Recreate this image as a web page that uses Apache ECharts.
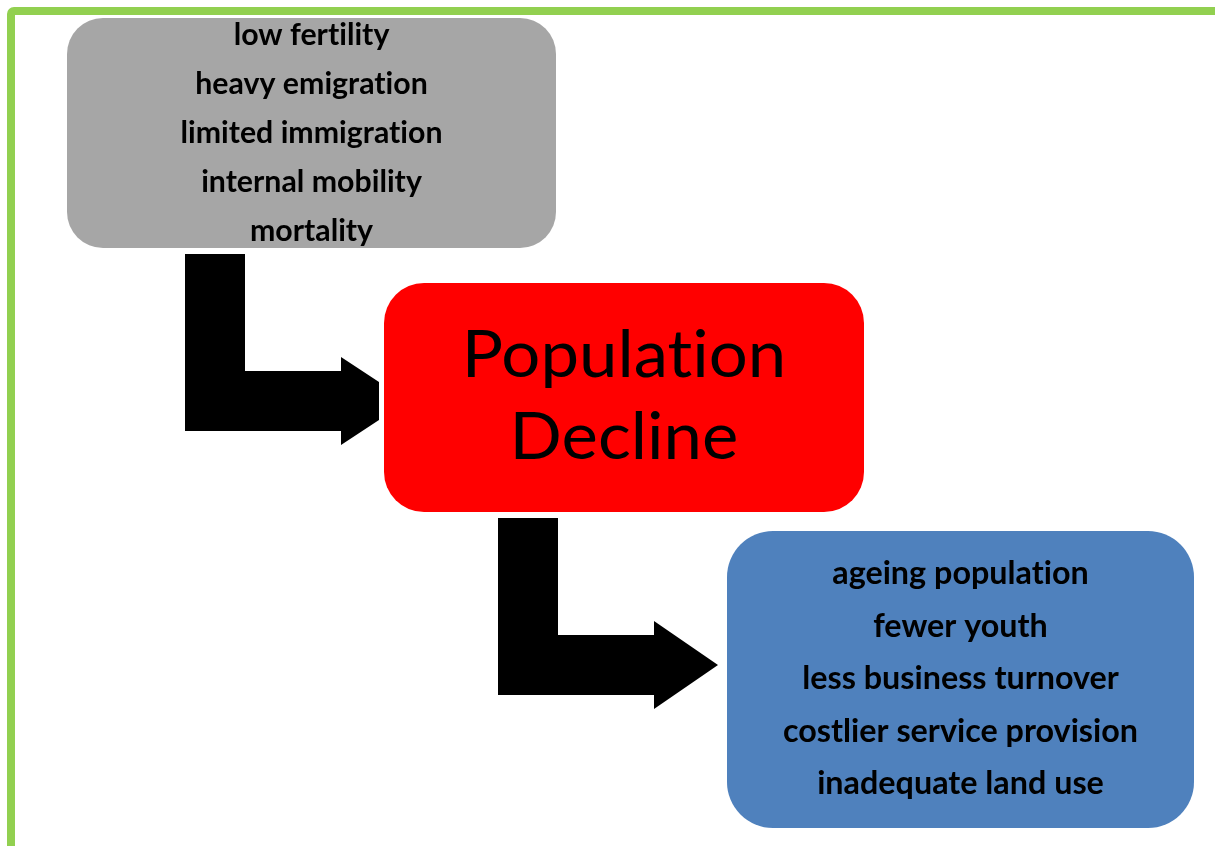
<!DOCTYPE html>
<html><head><meta charset="utf-8">
<script src="https://cdn.jsdelivr.net/npm/echarts@6/dist/echarts.min.js"></script>
<style>html,body{margin:0;padding:0;background:#fff}#c{width:1215px;height:846px}</style>
</head><body><div id="c"></div>
<script>
// ---- content ----
const causes = ['low fertility', 'heavy emigration', 'limited immigration', 'internal mobility', 'mortality'];
const centralIssue = ['Population', 'Decline'];
const consequences = ['ageing population', 'fewer youth', 'less business turnover', 'costlier service provision', 'inadequate land use'];

// ---- layout (pixel space, mapped through hidden value axes) ----
const W = 1215, H = 846;
const FONT = 'Lato';
const boxLayout = [
  { lines: causes, x0: 67, y0: 18, x1: 556, y1: 248, r: 36, fill: '#A6A6A6', size: 30, weight: 'bold', base: 45, gap: 49, sx: 1.01 },
  { lines: centralIssue, x0: 384, y0: 283, x1: 864, y1: 512, r: 40, fill: '#FF0000', size: 65, weight: 'normal', base: 377, gap: 82, sx: 1.06 },
  { lines: consequences, x0: 727, y0: 531, x1: 1194, y1: 828, r: 46, fill: '#4F81BD', size: 32, weight: 'bold', base: 584, gap: 52.5, sx: 1.01 }
];
const arrowLayout = [
  { vx0: 185, vx1: 245, vy0: 254, hy0: 371, hy1: 431, hx: 341, ht: 357, hb: 445, tx: 408, clip: 379 },
  { vx0: 498, vx1: 558, vy0: 518, hy0: 635, hy1: 695, hx: 654, ht: 621, hb: 709, tx: 718, clip: 718 }
];
const frameLayout = { x0: 11, y0: 11, x1: W + 20, y1: H + 20, color: '#92D050', width: 8 };

// draw text without discretionary ligatures (closer to the original typeface)
(function () {
  const P = CanvasRenderingContext2D.prototype;
  ['fillText', 'measureText'].forEach(function (k) {
    const orig = P[k];
    P[k] = function () { try { this.textRendering = 'optimizeSpeed'; } catch (e) {} return orig.apply(this, arguments); };
  });
})();

// distance between the 'middle' text baseline (used by zrender) and the alphabetic baseline
const probe = document.createElement('canvas').getContext('2d');
function baselineOffset(font, size) {
  probe.font = font;
  probe.textBaseline = 'middle';
  const m = probe.measureText('H');
  const d = m.actualBoundingBoxDescent;
  return (typeof d === 'number' && isFinite(d)) ? d : size * 0.35;
}

function renderFrame(params, api) {
  const f = frameLayout;
  const a = api.coord([f.x0, f.y0]), b = api.coord([f.x1, f.y1]);
  return { type: 'rect', shape: { x: a[0], y: a[1], width: b[0] - a[0], height: b[1] - a[1], r: 3 },
    style: { fill: 'none', stroke: f.color, lineWidth: f.width } };
}

function renderArrow(params, api) {
  const A = arrowLayout[params.dataIndex];
  const cy = (A.ht + A.hb) / 2, hh = (A.hb - A.ht) / 2;
  const half = hh * (A.tx - A.clip) / (A.tx - A.hx);
  const pts = [
    [A.vx0, A.vy0], [A.vx1, A.vy0], [A.vx1, A.hy0], [A.hx, A.hy0], [A.hx, A.ht],
    [A.clip, cy - half], [A.clip, cy + half], [A.hx, A.hb], [A.hx, A.hy1], [A.vx0, A.hy1]
  ].map(p => api.coord(p));
  return { type: 'polygon', shape: { points: pts }, style: { fill: '#000000' } };
}

function renderBox(params, api) {
  const B = boxLayout[params.dataIndex];
  const a = api.coord([B.x0, B.y0]), b = api.coord([B.x1, B.y1]);
  const cx = (a[0] + b[0]) / 2;
  const font = B.weight + ' ' + B.size + 'px ' + FONT;
  const off = baselineOffset(font, B.size);
  const children = [{
    type: 'rect', shape: { x: a[0], y: a[1], width: b[0] - a[0], height: b[1] - a[1], r: B.r },
    style: { fill: B.fill }
  }];
  B.lines.forEach((t, i) => {
    const y = api.coord([0, B.base + i * B.gap])[1] - off;
    children.push({
      type: 'text', x: cx, y: y, scaleX: B.sx,
      style: { text: t, fill: '#000', font: font, align: 'center', verticalAlign: 'middle' }
    });
  });
  return { type: 'group', children };
}

const chart = echarts.init(document.getElementById('c'), null, { renderer: 'canvas' });
chart.setOption({
  animation: false,
  backgroundColor: '#ffffff',
  grid: { left: 0, right: 0, top: 0, bottom: 0 },
  xAxis: { type: 'value', min: 0, max: W, show: false },
  yAxis: { type: 'value', min: 0, max: H, inverse: true, show: false },
  series: [
    { type: 'custom', clip: false, silent: true, renderItem: renderFrame, data: [[0]], z: 1 },
    { type: 'custom', clip: false, silent: true, renderItem: renderArrow, data: arrowLayout.map((_, i) => [i]), z: 2 },
    { type: 'custom', clip: false, silent: true, renderItem: renderBox, data: boxLayout.map((_, i) => [i]), z: 3 }
  ]
});
</script></body></html>
